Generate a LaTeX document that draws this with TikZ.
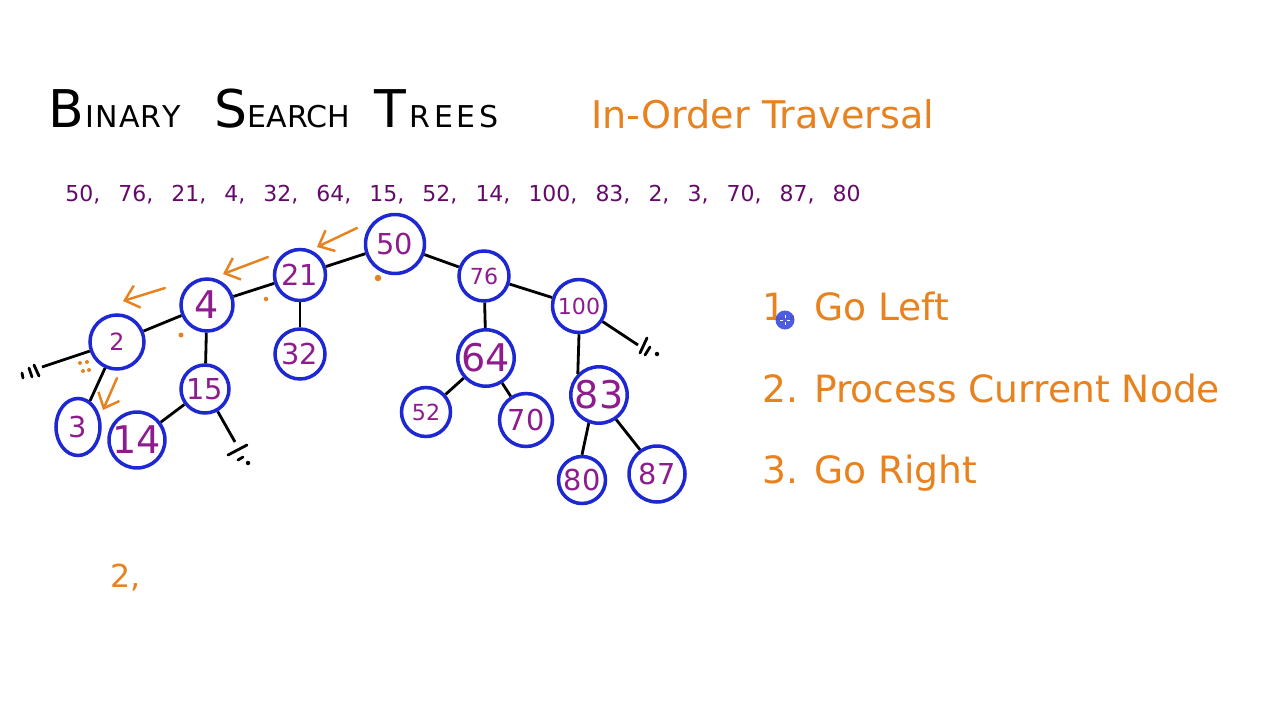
\documentclass[tikz,border=0pt]{standalone}
\usepackage{fontspec}
\setsansfont{DejaVu Sans}
\usetikzlibrary{
  arrows.meta,
  shapes.geometric,
}
\definecolor{ringblue}{HTML}{1E28D2}
\definecolor{keyplum}{HTML}{8E1C8E}
\definecolor{seqplum}{HTML}{650A6A}
\definecolor{traceorange}{HTML}{E8821E}
\definecolor{cursorblue}{HTML}{3F4FE0}
\tikzset{
  >={Straight Barb[length=2.6mm,width=4.6mm]},
  keynode/.style={
    circle,
    draw=ringblue,
    line width=2pt,
    fill=white,
    inner sep=0pt,
    minimum size=1.04cm,
    text=keyplum,
    font=\sffamily\fontsize{#1}{#1}\selectfont,
  },
  keynode/.default=16.4pt,
  link/.style={line width=1.6pt, black},
  nilmark/.style={line width=1.6pt, black, line cap=round},
  hint/.style={traceorange, line width=1.4pt, line cap=round, ->},
  crumb/.style={fill=traceorange},
  heading/.style={anchor=base west, inner sep=0pt, text=traceorange,
    font=\sffamily\fontsize{21.7pt}{22pt}\selectfont},
  stepline/.style={anchor=base west, inner sep=0pt, text=traceorange,
    font=\sffamily\fontsize{21.4pt}{22pt}\selectfont},
}

\begin{document}
\begin{tikzpicture}[x=0.02cm,y=-0.02cm]
  \useasboundingbox (0,0) rectangle (1280,720);
  \fill[white] (0,0) rectangle (1280,720);

  % titles
  \node[anchor=base west, inner sep=0pt, font=\sffamily] (title) at (48,127)
    {\fontsize{29.6pt}{30pt}\selectfont B\fontsize{17.1pt}{18pt}\selectfont \hspace{1pt}I\hspace{0.6pt}N\hspace{0.6pt}A\hspace{0.6pt}R\hspace{0.6pt}Y\hspace{19pt}%
     \fontsize{29.6pt}{30pt}\selectfont S\fontsize{17.1pt}{18pt}\selectfont EARCH\hspace{14pt}%
     \fontsize{29.6pt}{30pt}\selectfont T\fontsize{17.1pt}{18pt}\selectfont \hspace{2pt}R\hspace{2pt}E\hspace{2pt}E\hspace{2pt}S};
  \node[heading] (order) at (591,128) {In-Order Traversal};
  \node[anchor=base west, inner sep=0pt, text=seqplum,
    font=\sffamily\fontsize{12.5pt}{13pt}\selectfont] (inserts) at (65,201)
    {\spaceskip=10.3pt 50, 76, 21, 4, 32, 64, 15, 52, 14, 100, 83, 2, 3, 70, 87, 80};

  % tree
  \node[keynode, minimum size=1.18cm] (n50) at (395,244) {50};
  \node[keynode, minimum size=1.02cm] (n21) at (300,275) {21};
  \node[keynode=21.7pt] (n4) at (207,305) {4};
  \node[keynode=13.5pt, minimum size=1.08cm] (n2) at (117,342) {2};
  \node[keynode, ellipse, minimum width=0.88cm, minimum height=1.14cm] (n3) at (78,427) {3};
  \node[keynode, minimum size=0.96cm] (n15) at (205,389) {15};
  \node[keynode=21.7pt, minimum size=1.08cm] (n14) at (137,440) {14};
  \node[keynode, minimum size=1.0cm] (n32) at (300,354) {32};
  \node[keynode=12.6pt, minimum size=1.0cm] (n76) at (484,276) {76};
  \node[keynode=12.6pt, minimum size=1.06cm] (n100) at (579,306) {100};
  \node[keynode=21.7pt] (n64) at (486,358) {64};
  \node[keynode=12.6pt, minimum size=0.98cm] (n52) at (426,412) {52};
  \node[keynode, minimum size=1.06cm] (n70) at (526,420) {70};
  \node[keynode=21.7pt, minimum size=1.12cm] (n83) at (599,395) {83};
  \node[keynode, minimum size=0.94cm] (n80) at (582,480) {80};
  \node[keynode, minimum size=1.12cm] (n87) at (657,474) {87};

  \draw[link] (n50) -- (n21);
  \draw[link] (n21) -- (n4);
  \draw[link] (n4) -- (n2);
  \draw[link] (n2) -- (n3);
  \draw[link] (n4) -- (n15);
  \draw[link] (n15) -- (n14);
  \draw[link] (n21) -- (n32);
  \draw[link] (n50) -- (n76);
  \draw[link] (n76) -- (n64);
  \draw[link] (n64) -- (n52);
  \draw[link] (n64) -- (n70);
  \draw[link] (n76) -- (n100);
  \draw[link] (n100.south) -- (n83.north west);
  \draw[link] (n83.250) -- (n80.north);
  \draw[link] (n83.305) -- (n87.125);

  % empty children
  \coordinate (nil2) at (42,367);
  \coordinate (nil15) at (235,442);
  \coordinate (nil100) at (638,345);
  \draw[link] (n2) -- (nil2);
  \draw[link] (n15) -- (nil15);
  \draw[link] (n100) -- (nil100);
  \draw[nilmark] (nil2) ++(-8,-2) -- ++(5,11);
  \draw[nilmark] (nil2) ++(-13,1) -- ++(3,9);
  \draw[nilmark] (nil2) ++(-20,6) -- ++(1,5);
  \draw[nilmark] (nil15) ++(-7,13) -- ++(19,-10);
  \draw[nilmark] (nil15) ++(3,18) -- ++(5,-3);
  \fill (nil15) ++(13,21) circle (0.045cm);
  \draw[nilmark] (nil100) ++(2,8) -- ++(7,-15);
  \draw[nilmark] (nil100) ++(7,10) -- ++(5,-8);
  \fill (nil100) ++(19,9) circle (0.045cm);

  % traversal trace
  \coordinate (t1) at (357,228);
  \coordinate (h1) at (317,247);
  \coordinate (t2) at (268,257);
  \coordinate (h2) at (223,274);
  \coordinate (t3) at (165,288);
  \coordinate (h3) at (123,301);
  \coordinate (t4) at (117,378);
  \coordinate (h4) at (103,410);
  \draw[hint] (t1) -- (h1);
  \draw[hint] (t2) -- (h2);
  \draw[hint] (t3) -- (h3);
  \draw[hint] (t4) -- (h4);
  \fill[crumb] (378,278) circle (0.065cm);
  \fill[crumb] (266,299) circle (0.045cm);
  \fill[crumb] (181,335) circle (0.05cm);
  \fill[crumb] (80,363) circle (0.04cm);
  \fill[crumb] (87,362) circle (0.04cm);
  \fill[crumb] (83,371) circle (0.04cm);
  \fill[crumb] (89,370) circle (0.04cm);

  % steps
  \node[stepline] (goleft) at (762,320) {1. Go Left};
  \node[stepline] (process) at (762,402) {2. Process Current Node};
  \node[stepline] (goright) at (762,483) {3. Go Right};
  \fill[cursorblue, opacity=0.92] (785,320) circle (0.19cm);
  \draw[white, line width=0.4pt] (780,320) -- (783,320) (787,320) -- (790,320)
    (785,315) -- (785,318) (785,322) -- (785,325);

  % output so far
  \node[anchor=base west, inner sep=0pt, text=traceorange,
    font=\sffamily\fontsize{18pt}{18pt}\selectfont] (visited) at (110,587) {2,};
\end{tikzpicture}
\end{document}
